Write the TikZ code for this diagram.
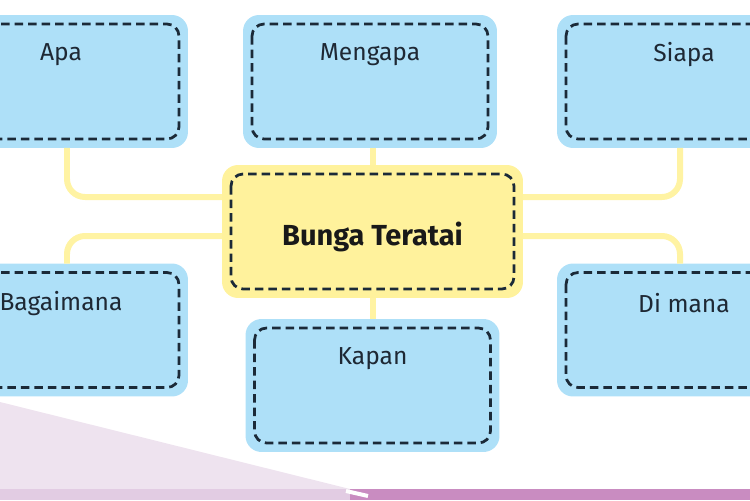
\documentclass[tikz,border=0pt]{standalone}
\usepackage{fontspec}
\setmainfont{Fira Sans}
\usepackage{tikz}
\usetikzlibrary{positioning}
\definecolor{boxblue}{RGB}{174,224,248}
\definecolor{hubyellow}{RGB}{255,242,156}
\definecolor{linkyellow}{RGB}{255,243,163}
\definecolor{dashdark}{RGB}{27,42,56}
\definecolor{inkdark}{RGB}{30,40,52}
\definecolor{lilac}{RGB}{238,227,239}
\definecolor{lilacstrip}{RGB}{226,204,227}
\definecolor{plum}{RGB}{201,140,193}

\begin{document}
\begin{tikzpicture}[x=0.02cm,y=-0.02cm,
  box/.style={fill=boxblue, rounded corners=0.32cm, minimum width=5.08cm,
    minimum height=2.66cm, outer sep=0pt, inner sep=0pt},
  hub/.style={box, fill=hubyellow, minimum width=6.02cm, text=black!90,
    text height=19pt, text depth=3.3pt,
    font=\fontsize{16.5}{19}\selectfont\bfseries},
  lbl/.style={anchor=center, label distance=-0.8cm, fill=none,
    minimum width=0pt, minimum height=0pt, inner sep=1pt, text=inkdark,
    font=\fontsize{14}{17}\selectfont},
  link/.style={draw=linkyellow, line width=0.12cm, rounded corners=0.36cm},
  dashline/.style={draw=dashdark, line width=0.055cm,
    dash pattern=on 0.17cm off 0.1cm, rounded corners=0.24cm}]
\useasboundingbox (0,0) rectangle (750,500);
\clip (0,0) rectangle (750,500);
% Background at the bottom
\fill[lilac] (0,402) -- (350,489) -- (0,489) -- cycle;
\fill[lilacstrip] (0,489) rectangle (350,500);
\fill[plum] (350,489) rectangle (750,500);
\draw[white, line width=0.08cm] (346,491) -- (368,496);
% Question boxes
\node[box, label={[lbl]90:Apa}] (apa) at (61,81.5) {};
\node[box, label={[lbl]90:Mengapa}] (mengapa) at (370,81.5) {};
\node[box, label={[lbl]90:Siapa}] (siapa) at (684,81.5) {};
\node[box, label={[lbl]90:Bagaimana}] (bagaimana) at (61,330) {};
\node[box, label={[lbl]90:Kapan}] (kapan) at (372.5,385.5) {};
\node[box, label={[lbl]90:Di mana}] (dimana) at (684,330) {};
% Topic in the middle
\node[hub] (teratai) at (372.5,231.5) {Bunga Teratai};
% Dashed inner borders
\foreach \n in {apa,mengapa,siapa,bagaimana,kapan,dimana,teratai}
  \draw[dashline] ([shift={(9,9)}]\n.north west) rectangle ([shift={(-9,-9)}]\n.south east);
% Links to the topic
\draw[link] ([xshift=0.12cm]apa.south) |- ([yshift=0.69cm]teratai.west);
\draw[link] ([xshift=0.12cm]bagaimana.north) |- ([yshift=-0.09cm]teratai.west);
\draw[link] ([xshift=-0.08cm]siapa.south) |- ([yshift=0.69cm]teratai.east);
\draw[link] ([xshift=-0.08cm]dimana.north) |- ([yshift=-0.09cm]teratai.east);
\draw[link] (teratai.north) -- (teratai.north |- mengapa.south);
\draw[link] (teratai.south) -- (teratai.south |- kapan.north);
\end{tikzpicture}
\end{document}
